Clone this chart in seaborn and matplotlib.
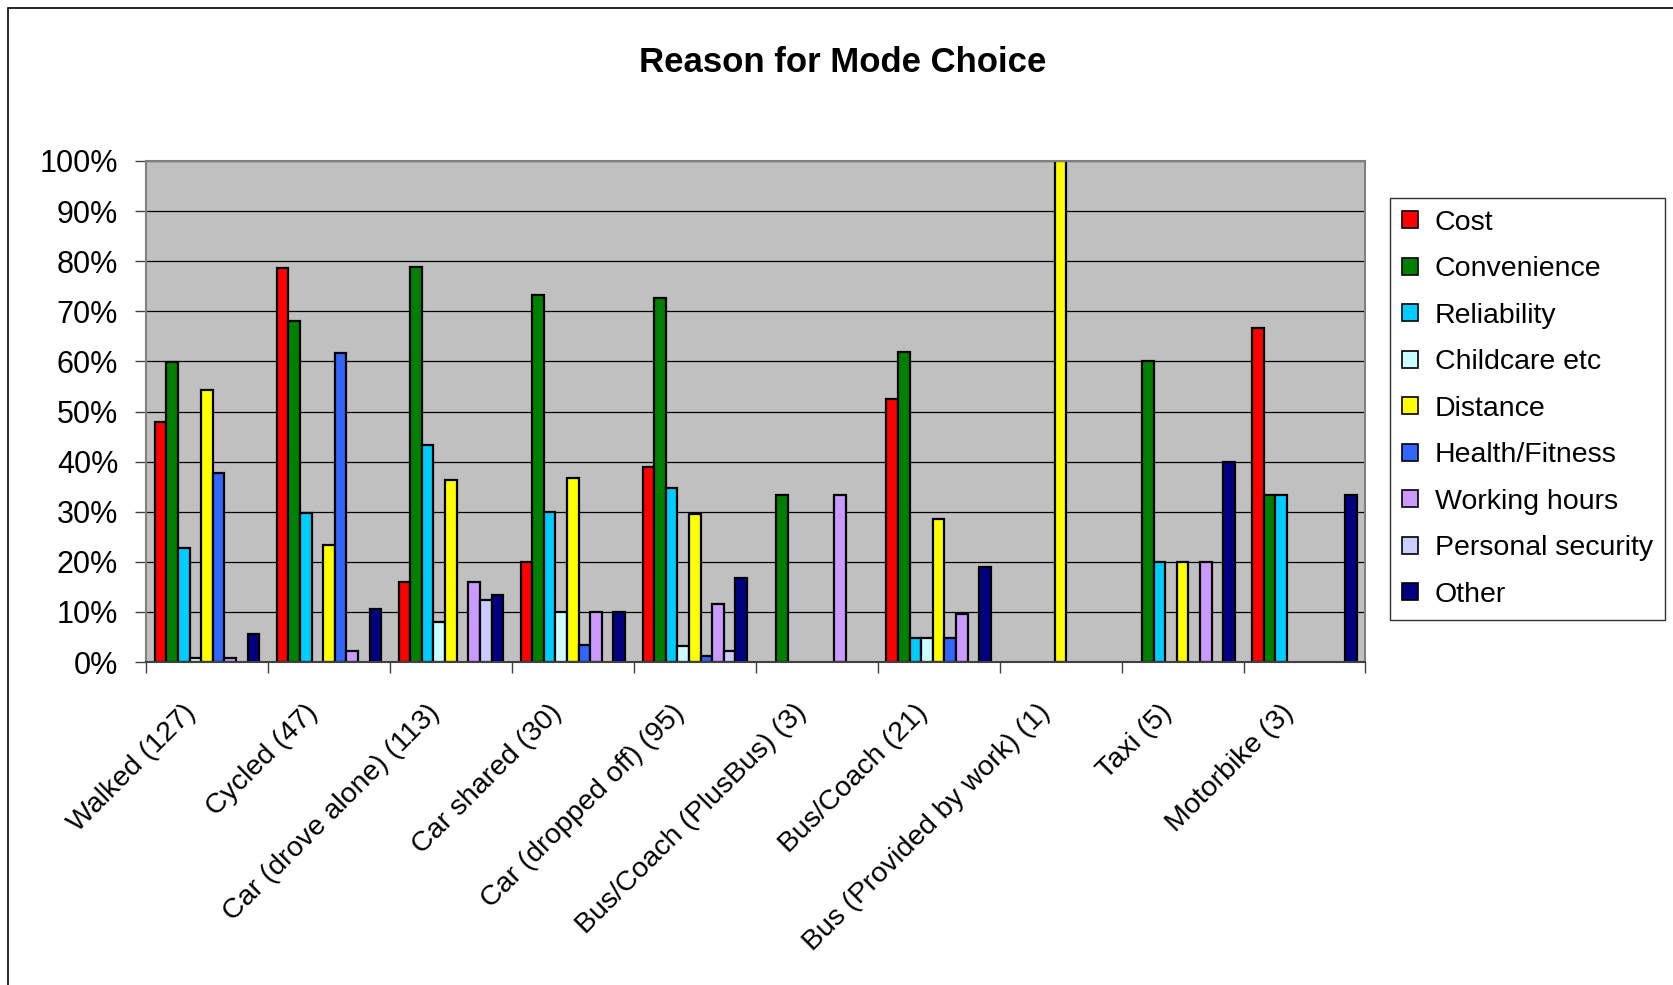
import numpy as np
import pandas as pd
import matplotlib
matplotlib.use("Agg")
import matplotlib.pyplot as plt
import matplotlib.transforms as mtransforms
from matplotlib.patches import Patch, Rectangle
from matplotlib.ticker import FuncFormatter, FixedLocator
import seaborn as sns

# ── data (percent of respondents per travel mode) ──────────────────────────
modes = [
    "Walked (127)", "Cycled (47)", "Car (drove alone) (113)", "Car shared (30)",
    "Car (dropped off) (95)", "Bus/Coach (PlusBus) (3)", "Bus/Coach (21)",
    "Bus (Provided by work) (1)", "Taxi (5)", "Motorbike (3)",
]
reasons = [
    "Cost", "Convenience", "Reliability", "Childcare etc", "Distance",
    "Health/Fitness", "Working hours", "Personal security", "Other",
]
cost          = [48.0, 78.7, 15.9, 20.0, 38.9, 0.0, 52.4, 0.0, 0.0, 66.7]
convenience   = [59.8, 68.1, 78.8, 73.3, 72.6, 33.3, 61.9, 0.0, 60.0, 33.3]
reliability   = [22.8, 29.8, 43.4, 30.0, 34.7, 0.0, 4.8, 0.0, 20.0, 33.3]
childcare     = [0.8, 0.0, 8.0, 10.0, 3.2, 0.0, 4.8, 0.0, 0.0, 0.0]
distance      = [54.3, 23.4, 36.3, 36.7, 29.5, 0.0, 28.6, 100.0, 20.0, 0.0]
health        = [37.8, 61.7, 0.0, 3.3, 1.1, 0.0, 4.8, 0.0, 0.0, 0.0]
working_hours = [0.8, 2.1, 15.9, 10.0, 11.6, 33.3, 9.5, 0.0, 20.0, 0.0]
security      = [0.0, 0.0, 12.4, 0.0, 2.1, 0.0, 0.0, 0.0, 0.0, 0.0]
other         = [5.5, 10.6, 13.3, 10.0, 16.8, 0.0, 19.0, 0.0, 40.0, 33.3]
y_ticks = [0, 10, 20, 30, 40, 50, 60, 70, 80, 90, 100]

colors = ["#FF0000", "#008000", "#00CCFF", "#CCFFFF", "#FFFF00",
          "#3366FF", "#CC99FF", "#CCCCFF", "#000080"]

series = [cost, convenience, reliability, childcare, distance,
          health, working_hours, security, other]
rows = []
for reason, vals in zip(reasons, series):
    for mode, v in zip(modes, vals):
        if v > 0:
            rows.append({"mode": mode, "reason": reason, "pct": v})
df = pd.DataFrame(rows)

# ── plot ────────────────────────────────────────────────────────────────────
sns.set_theme(style="white")
plt.rcParams["font.family"] = ["Liberation Sans", "DejaVu Sans"]
plt.rcParams["text.color"] = "black"
plt.rcParams["xtick.color"] = "black"
plt.rcParams["ytick.color"] = "black"

fig = plt.figure(figsize=(16.74, 9.85), dpi=100)
ax = fig.add_axes([146 / 1674, 1 - 662 / 985, (1365.5 - 146) / 1674, (662 - 161) / 985])
ax.set_facecolor("#C0C0C0")

sns.barplot(
    data=df, x="mode", y="pct", hue="reason",
    order=modes, hue_order=reasons, palette=colors, saturation=1,
    width=9 / 10.5, gap=0, errorbar=None,
    edgecolor="black", linewidth=1.6, legend=False, ax=ax,
)

ax.set_xlim(-0.5, len(modes) - 0.5)
ax.set_ylim(0, 100)
ax.set_xlabel("")
ax.set_ylabel("")

# gridlines
ax.set_yticks(y_ticks)
ax.yaxis.grid(True, color="black", linewidth=0.9)
ax.xaxis.grid(False)
ax.set_axisbelow(True)
ax.yaxis.set_major_formatter(FuncFormatter(lambda v, p: f"{int(v)}%"))
ax.tick_params(axis="y", which="major", direction="out", length=8, width=1,
               color="#404040", labelcolor="black", pad=12, labelsize=22, left=True)

# x ticks: marks at category borders, labels at centers
ax.set_xticks(range(len(modes)))
ax.set_xticklabels(modes, rotation=45, ha="right", va="top",
                   rotation_mode="anchor", fontsize=20.5, color="black")
ax.xaxis.set_minor_locator(FixedLocator(np.arange(-0.5, len(modes), 1.0)))
ax.tick_params(axis="x", which="major", length=0, pad=27)
ax.tick_params(axis="x", which="minor", direction="out", length=8, width=1,
               color="#404040", bottom=True)
shift = mtransforms.ScaledTranslation(-0.24, 0, fig.dpi_scale_trans)
for lab in ax.get_xticklabels():
    lab.set_transform(lab.get_transform() + shift)

for side in ["top", "right", "left"]:
    ax.spines[side].set_color("#808080")
    ax.spines[side].set_linewidth(1.5)
ax.spines["bottom"].set_color("#404040")
ax.spines["bottom"].set_linewidth(1.5)

# title
fig.text(843 / 1674, 1 - 62 / 985, "Reason for Mode Choice", color="black",
         ha="center", va="center", fontsize=25, fontweight="bold")

# legend
handles = [Patch(facecolor=c, edgecolor="black", linewidth=1.2) for c in colors]
leg = fig.legend(
    handles, reasons, loc="upper left",
    bbox_to_anchor=(1390 / 1674, 1 - 198 / 985), bbox_transform=fig.transFigure,
    fontsize=20.5, frameon=True, fancybox=False, shadow=False,
    handlelength=0.55, handleheight=0.55, handletextpad=0.6,
    labelspacing=0.72, borderpad=0.42, borderaxespad=0,
)
leg.get_frame().set_edgecolor("black")
leg.get_frame().set_linewidth(1.0)
for t in leg.get_texts():
    t.set_color("black")

# outer chart border (only left and top are visible in the crop)
fig.add_artist(Rectangle((8 / 1674, -0.2), 1.5, 1.2 - 7.5 / 985,
                         transform=fig.transFigure, fill=False,
                         edgecolor="black", linewidth=1.2))

plt.savefig("out.png", dpi=100)
plt.close()
